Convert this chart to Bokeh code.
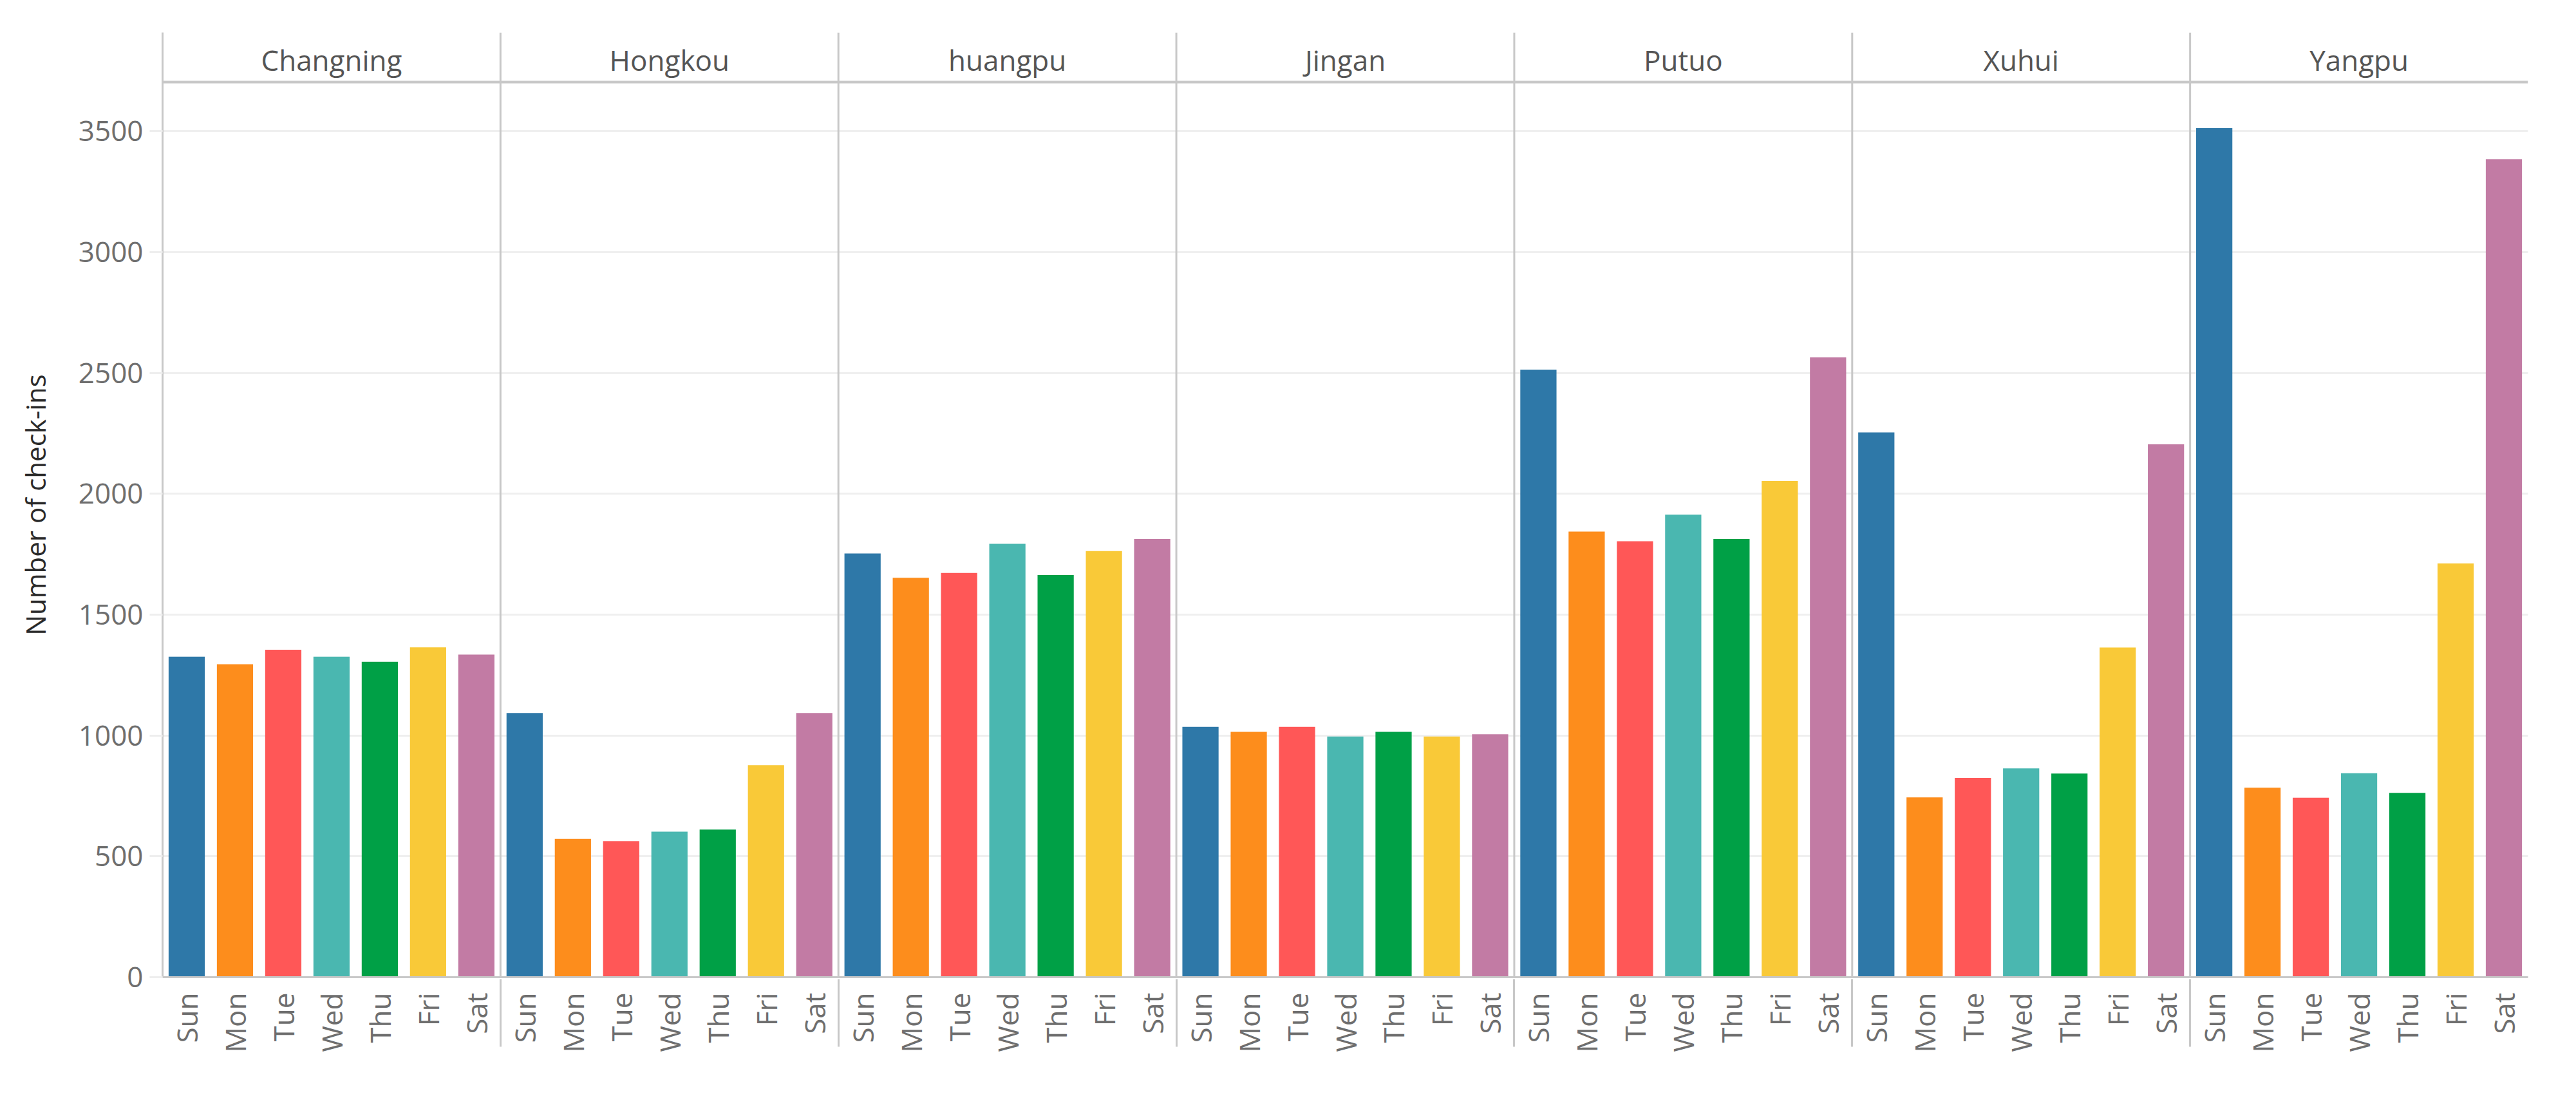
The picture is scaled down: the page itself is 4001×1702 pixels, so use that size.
import math
from bokeh.plotting import figure
from bokeh.models import FactorRange, Range1d, FixedTicker, Span, ColumnDataSource
from bokeh.core.properties import value
from bokeh.embed import file_html
from bokeh.resources import INLINE

districts = ["Changning", "Hongkou", "huangpu", "Jingan", "Putuo", "Xuhui", "Yangpu"]
days = ["Sun", "Mon", "Tue", "Wed", "Thu", "Fri", "Sat"]
day_colors = ["#2e78a8", "#fd8d1c", "#ff5757", "#4ab7b0", "#00a046", "#f9c938", "#c27ba4"]

changning = [1326, 1295, 1355, 1326, 1305, 1365, 1335]
hongkou = [1093, 572, 563, 602, 611, 877, 1093]
huangpu = [1753, 1653, 1673, 1793, 1664, 1763, 1813]
jingan = [1036, 1015, 1036, 996, 1015, 996, 1005]
putuo = [2514, 1844, 1804, 1914, 1813, 2053, 2565]
xuhui = [2254, 744, 825, 864, 843, 1364, 2205]
yangpu = [3513, 784, 743, 844, 763, 1712, 3385]
series = [changning, hongkou, huangpu, jingan, putuo, xuhui, yangpu]

y_ticks = [0, 500, 1000, 1500, 2000, 2500, 3000, 3500]

factors = [(d, day) for d in districts for day in days]
counts = [v for s in series for v in s]
colors = [day_colors[i] for _ in districts for i in range(len(days))]

FONT = "Open Sans"
GRID = "#c8c8c8"

x_range = FactorRange(*factors, range_padding=0, group_padding=0, subgroup_padding=0, factor_padding=0)
p = figure(x_range=x_range, y_range=Range1d(0, 3909),
           frame_width=3674, frame_height=1467,
           min_border_left=252, min_border_right=40, min_border_top=50, min_border_bottom=150,
           output_backend="svg", toolbar_location=None)
p.outline_line_color = None
p.background_fill_color = "white"

src = ColumnDataSource(dict(x=factors, top=counts, color=colors))
p.vbar(x="x", top="top", width=0.75, fill_color="color", line_color=None, source=src)

# y axis
p.yaxis.ticker = FixedTicker(ticks=y_ticks)
p.yaxis.axis_line_color = GRID
p.yaxis.axis_line_width = 3
p.yaxis.major_tick_out = 20
p.yaxis.major_tick_in = 0
p.yaxis.major_tick_line_color = "#eeeeee"
p.yaxis.major_tick_line_width = 3
p.yaxis.minor_tick_line_color = None
p.yaxis.major_label_standoff = 10
p.yaxis.major_label_text_font = FONT
p.yaxis.major_label_text_font_size = "44px"
p.yaxis.major_label_text_color = "#6e6e6e"
p.yaxis.axis_label = "Number of check-ins"
p.yaxis.axis_label_text_font = FONT
p.yaxis.axis_label_text_font_size = "42px"
p.yaxis.axis_label_text_font_style = "normal"
p.yaxis.axis_label_text_color = "#2a2a2a"
p.yaxis.axis_label_standoff = 36

p.ygrid.ticker = FixedTicker(ticks=y_ticks)
p.ygrid.grid_line_color = "#efefef"
p.ygrid.grid_line_width = 3
p.xgrid.grid_line_color = None

# x axis
p.xaxis.axis_line_color = GRID
p.xaxis.axis_line_width = 3
p.xaxis.major_tick_line_color = None
p.xaxis.minor_tick_line_color = None
p.xaxis.major_label_orientation = math.pi / 2
p.xaxis.major_label_standoff = 18
p.xaxis.major_label_text_font = FONT
p.xaxis.major_label_text_font_size = "44px"
p.xaxis.major_label_text_color = "#6e6e6e"
p.xaxis.group_text_font_size = "1px"
p.xaxis.group_text_alpha = 0
p.xaxis.separator_line_color = GRID
p.xaxis.separator_line_width = 3

# panel separators and header band
for k in range(1, len(districts)):
    p.add_layout(Span(location=7 * k, dimension="height", line_color=GRID, line_width=3))
p.add_layout(Span(location=3704, dimension="width", line_color=GRID, line_width=4))

hdr = ColumnDataSource(dict(x=[(d, "Wed") for d in districts], y=[3795] * len(districts), t=districts))
p.text(x="x", y="y", text="t", source=hdr, text_align="center", text_baseline="middle",
       text_font=value(FONT), text_font_size="44px", text_color="#555555")

open("out.html", "w").write(file_html(p, INLINE))
